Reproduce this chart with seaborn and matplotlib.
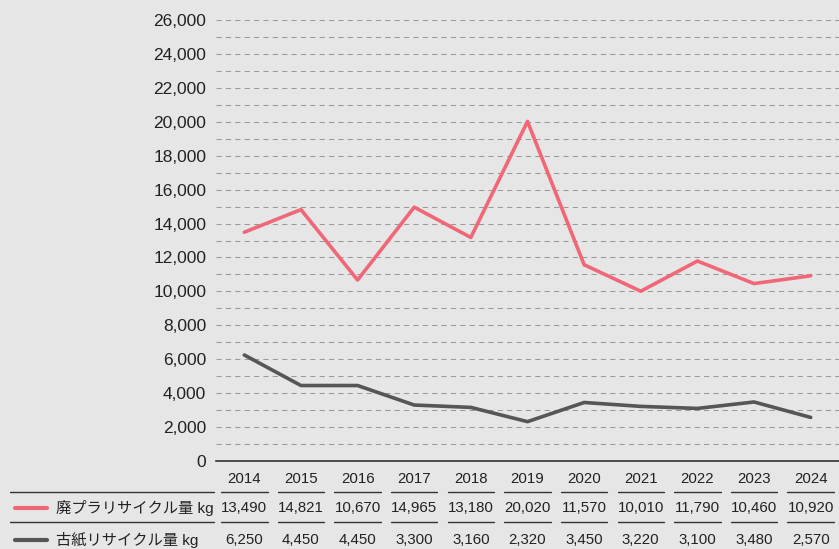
import pandas as pd
import numpy as np
import matplotlib.pyplot as plt
import matplotlib.transforms as mtransforms
from matplotlib.ticker import FuncFormatter, MultipleLocator
import seaborn as sns

years = [2014, 2015, 2016, 2017, 2018, 2019, 2020, 2021, 2022, 2023, 2024]
plastic = [13490, 14821, 10670, 14965, 13180, 20020, 11570, 10010, 11790, 10460, 10920]
paper = [6250, 4450, 4450, 3300, 3160, 2320, 3450, 3220, 3100, 3480, 2570]
series_names = ["廃プラリサイクル量 kg", "古紙リサイクル量 kg"]
colors = ["#f06877", "#565656"]
bg = "#e6e6e6"

df = pd.concat([
    pd.DataFrame({"year": years, "value": plastic, "series": series_names[0]}),
    pd.DataFrame({"year": years, "value": paper, "series": series_names[1]}),
])

sns.set_style("white")
plt.rcParams["font.family"] = ["Liberation Sans", "Noto Sans CJK JP", "DejaVu Sans"]

fig = plt.figure(figsize=(8.39, 5.49), dpi=100, facecolor=bg)
ax = fig.add_axes([216 / 839, 1 - 461 / 549, 1 - 216 / 839, (461 - 20) / 549])
ax.set_facecolor(bg)

sns.lineplot(data=df, x="year", y="value", hue="series", palette=colors,
             linewidth=2.6, ax=ax, legend=False)

ax.set_xlim(2013.5, 2024.5)
ax.set_ylim(0, 26000)
ax.yaxis.set_major_locator(MultipleLocator(2000))
ax.yaxis.set_minor_locator(MultipleLocator(1000))
ax.yaxis.set_major_formatter(FuncFormatter(lambda v, p: f"{int(v):,}"))
ax.set_xticks(years)
ax.set_xticklabels([str(y) for y in years], fontsize=10.8, color="#222222")
for lab in ax.get_yticklabels():
    lab.set_fontsize(12.5)
    lab.set_color("#222222")
ax.tick_params(axis="both", length=0, pad=7)
ax.tick_params(axis="x", pad=8)
ax.grid(False)
for v in np.arange(1000, 26001, 1000):
    ax.axhline(v, color="#9a9a9a", lw=0.75, ls=(0, (5, 4)), zorder=0)
for s in ["top", "right", "left"]:
    ax.spines[s].set_visible(False)
ax.spines["bottom"].set_color("#333333")
ax.spines["bottom"].set_linewidth(1.2)
ax.set_xlabel("")
ax.set_ylabel("")

# table under the chart
trans = mtransforms.blended_transform_factory(ax.transData, fig.transFigure)
row_y = [1 - 508 / 549, 1 - 540 / 549]
line_y = [1 - 492 / 549, 1 - 522 / 549]
for ly in line_y:
    fig.add_artist(plt.Line2D([10 / 839, 214 / 839], [ly, ly], color="#333333", lw=1.0))
    for yr in years:
        ax.plot([yr - 0.41, yr + 0.41], [ly, ly], transform=trans, color="#333333",
                lw=1.0, clip_on=False)
for i, (name, vals) in enumerate(zip(series_names, [plastic, paper])):
    fig.add_artist(plt.Line2D([15 / 839, 47 / 839], [row_y[i], row_y[i]],
                              color=colors[i], lw=3, solid_capstyle="round"))
    fig.text(56 / 839, row_y[i], name, fontsize=11, va="center", ha="left",
             color="#222222")
    for yr, v in zip(years, vals):
        ax.text(yr, row_y[i], f"{v:,}", transform=trans, fontsize=10.8,
                ha="center", va="center", color="#222222")

fig.savefig("out.png", dpi=100, facecolor=bg)
